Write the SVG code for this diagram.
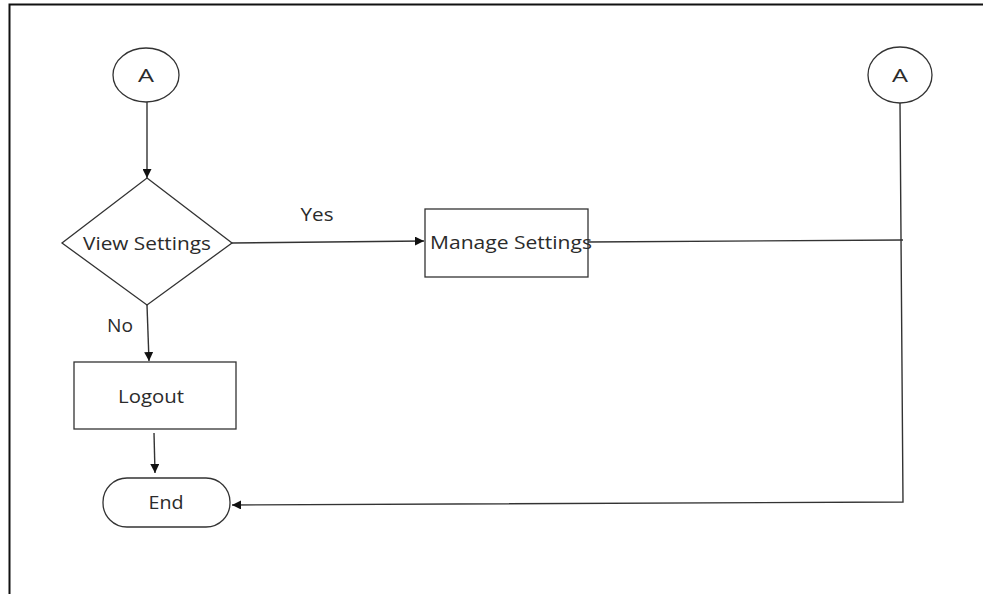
<svg xmlns="http://www.w3.org/2000/svg" width="983" height="594" viewBox="0 0 983 594">
<style>
.shape{fill:#fff;stroke:#333;stroke-width:1.3}
.conn{fill:none;stroke:#333;stroke-width:1.4}
text{font-family:"Open Sans","Liberation Sans",sans-serif;fill:#2b2b2b;font-size:18px;text-anchor:middle}
</style>
<defs>
<marker id="arr" viewBox="0 0 10 10" refX="10" refY="5" markerWidth="9" markerHeight="9" markerUnits="userSpaceOnUse" orient="auto">
<path d="M0,0 L10,5 L0,10 z" fill="#111"/>
</marker>
</defs>
<rect width="983" height="594" fill="#fff"/>
<path d="M9.5,594 V4.5 H983" fill="none" stroke="#111" stroke-width="2"/>
<g id="connectors">
<line class="conn" x1="147" y1="102" x2="147" y2="178" marker-end="url(#arr)"/>
<line class="conn" x1="232" y1="243" x2="424" y2="241" marker-end="url(#arr)"/>
<line class="conn" x1="147" y1="305" x2="149" y2="361" marker-end="url(#arr)"/>
<line class="conn" x1="154" y1="433" x2="155" y2="473" marker-end="url(#arr)"/>
<polyline class="conn" points="588,242 903,240"/>
<polyline class="conn" points="900,103 903,502 232,505" marker-end="url(#arr)"/>
<text x="317" y="221" textLength="33" lengthAdjust="spacingAndGlyphs">Yes</text>
<text x="120" y="332" textLength="26" lengthAdjust="spacingAndGlyphs">No</text>
</g>
<g id="startA">
<ellipse class="shape" cx="146" cy="75" rx="33" ry="27"/>
<text x="146" y="82" textLength="16" lengthAdjust="spacingAndGlyphs">A</text>
</g>
<g id="endA">
<ellipse class="shape" cx="900" cy="75" rx="32" ry="28"/>
<text x="900" y="82" textLength="16" lengthAdjust="spacingAndGlyphs">A</text>
</g>
<g id="viewSettings">
<polygon class="shape" points="147,178 232,243 147,305 62,243"/>
<text x="147" y="250" textLength="128" lengthAdjust="spacingAndGlyphs">View Settings</text>
</g>
<g id="manageSettings">
<rect class="shape" x="425" y="209" width="163" height="68"/>
<text x="511" y="249" textLength="162" lengthAdjust="spacingAndGlyphs">Manage Settings</text>
</g>
<g id="logout">
<rect class="shape" x="74" y="362" width="162" height="67"/>
<text x="151" y="403" textLength="66" lengthAdjust="spacingAndGlyphs">Logout</text>
</g>
<g id="end">
<rect class="shape" x="103" y="478" width="127" height="49" rx="24" ry="24"/>
<text x="166" y="509" textLength="35" lengthAdjust="spacingAndGlyphs">End</text>
</g>
</svg>
